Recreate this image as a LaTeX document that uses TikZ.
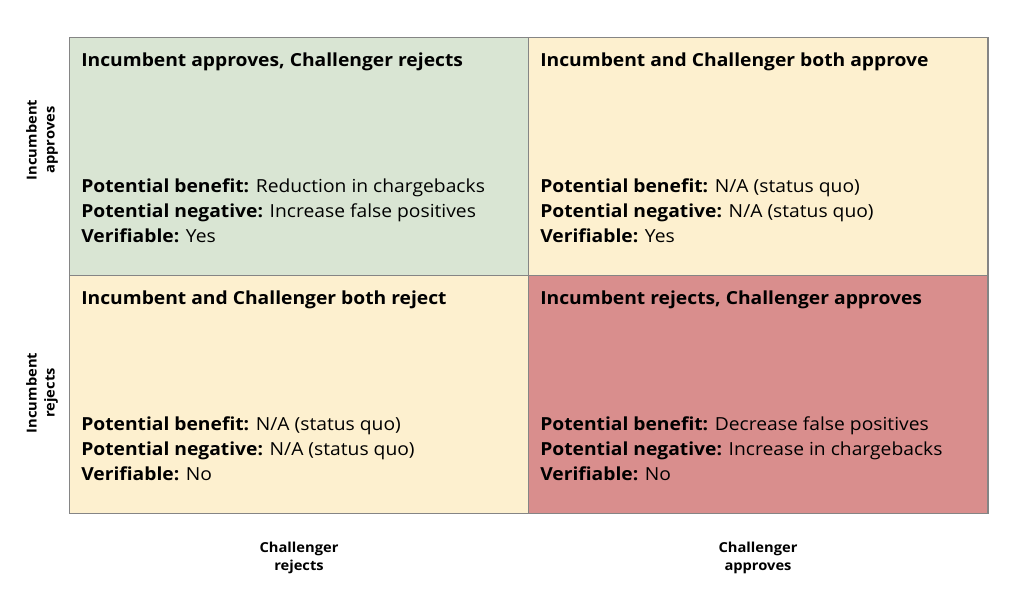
\documentclass[tikz,border=0pt]{standalone}
\usepackage{fontspec}
\setmainfont{Open Sans}[FakeStretch=1.07]
\usetikzlibrary{positioning}
\definecolor{QuadGreen}{HTML}{D9E5D3}
\definecolor{QuadYellow}{HTML}{FDF0CF}
\definecolor{QuadRed}{HTML}{D98E8D}
\definecolor{GridGray}{HTML}{858585}
\newcommand{\Benefit}[1]{\textbf{Potential benefit:} #1}
\newcommand{\Negative}[1]{\textbf{Potential negative:} #1}
\newcommand{\Verif}[1]{\textbf{Verifiable:} #1}

\begin{document}
\begin{tikzpicture}[x=0.75pt,y=-0.75pt,
    quad/.style={draw=GridGray,line width=1.1pt,anchor=north west,inner sep=0pt,
      minimum width=344.6pt,minimum height=178.5pt},
    head/.style={anchor=base west,inner sep=0pt,font=\fontsize{13.5}{18.75}\selectfont\bfseries},
    body/.style={anchor=north west,inner sep=0pt,align=left,font=\fontsize{13.5}{18.75}\selectfont},
    axislabel/.style={inner sep=0pt,align=center,font=\fontsize{10.3}{13.5}\selectfont\bfseries}]
  \useasboundingbox (0,0) rectangle (1024,591);

  % quadrants
  \node[quad,fill=QuadGreen] (qAR) at (69,37) {};
  \node[quad,fill=QuadYellow] (qAA) at (528,37) {};
  \node[quad,fill=QuadYellow] (qRR) at (69,275) {};
  \node[quad,fill=QuadRed] (qRA) at (528,275) {};

  % top row
  \node[head] (hAR) at (81,67) {Incumbent approves, Challenger rejects};
  \node[body] (bAR) at (81,178) {\Benefit{Reduction in chargebacks}\\
    \Negative{Increase false positives}\\ \Verif{Yes}};
  \node[head] (hAA) at (540,67) {Incumbent and Challenger both approve};
  \node[body] (bAA) at (540,178) {\Benefit{N/A (status quo)}\\
    \Negative{N/A (status quo)}\\ \Verif{Yes}};

  % bottom row
  \node[head] (hRR) at (81,305) {Incumbent and Challenger both reject};
  \node[body] (bRR) at (81,416) {\Benefit{N/A (status quo)}\\
    \Negative{N/A (status quo)}\\ \Verif{No}};
  \node[head] (hRA) at (540,305) {Incumbent rejects, Challenger approves};
  \node[body] (bRA) at (540,416) {\Benefit{Decrease false positives}\\
    \Negative{Increase in chargebacks}\\ \Verif{No}};

  % axis labels
  \node[axislabel,rotate=90] (lApp) at (42,140) {Incumbent\\approves};
  \node[axislabel,rotate=90] (lRej) at (42,393) {Incumbent\\rejects};
  \node[axislabel] (cRej) at (299,558) {Challenger\\rejects};
  \node[axislabel] (cApp) at (758,558) {Challenger\\approves};
\end{tikzpicture}
\end{document}
